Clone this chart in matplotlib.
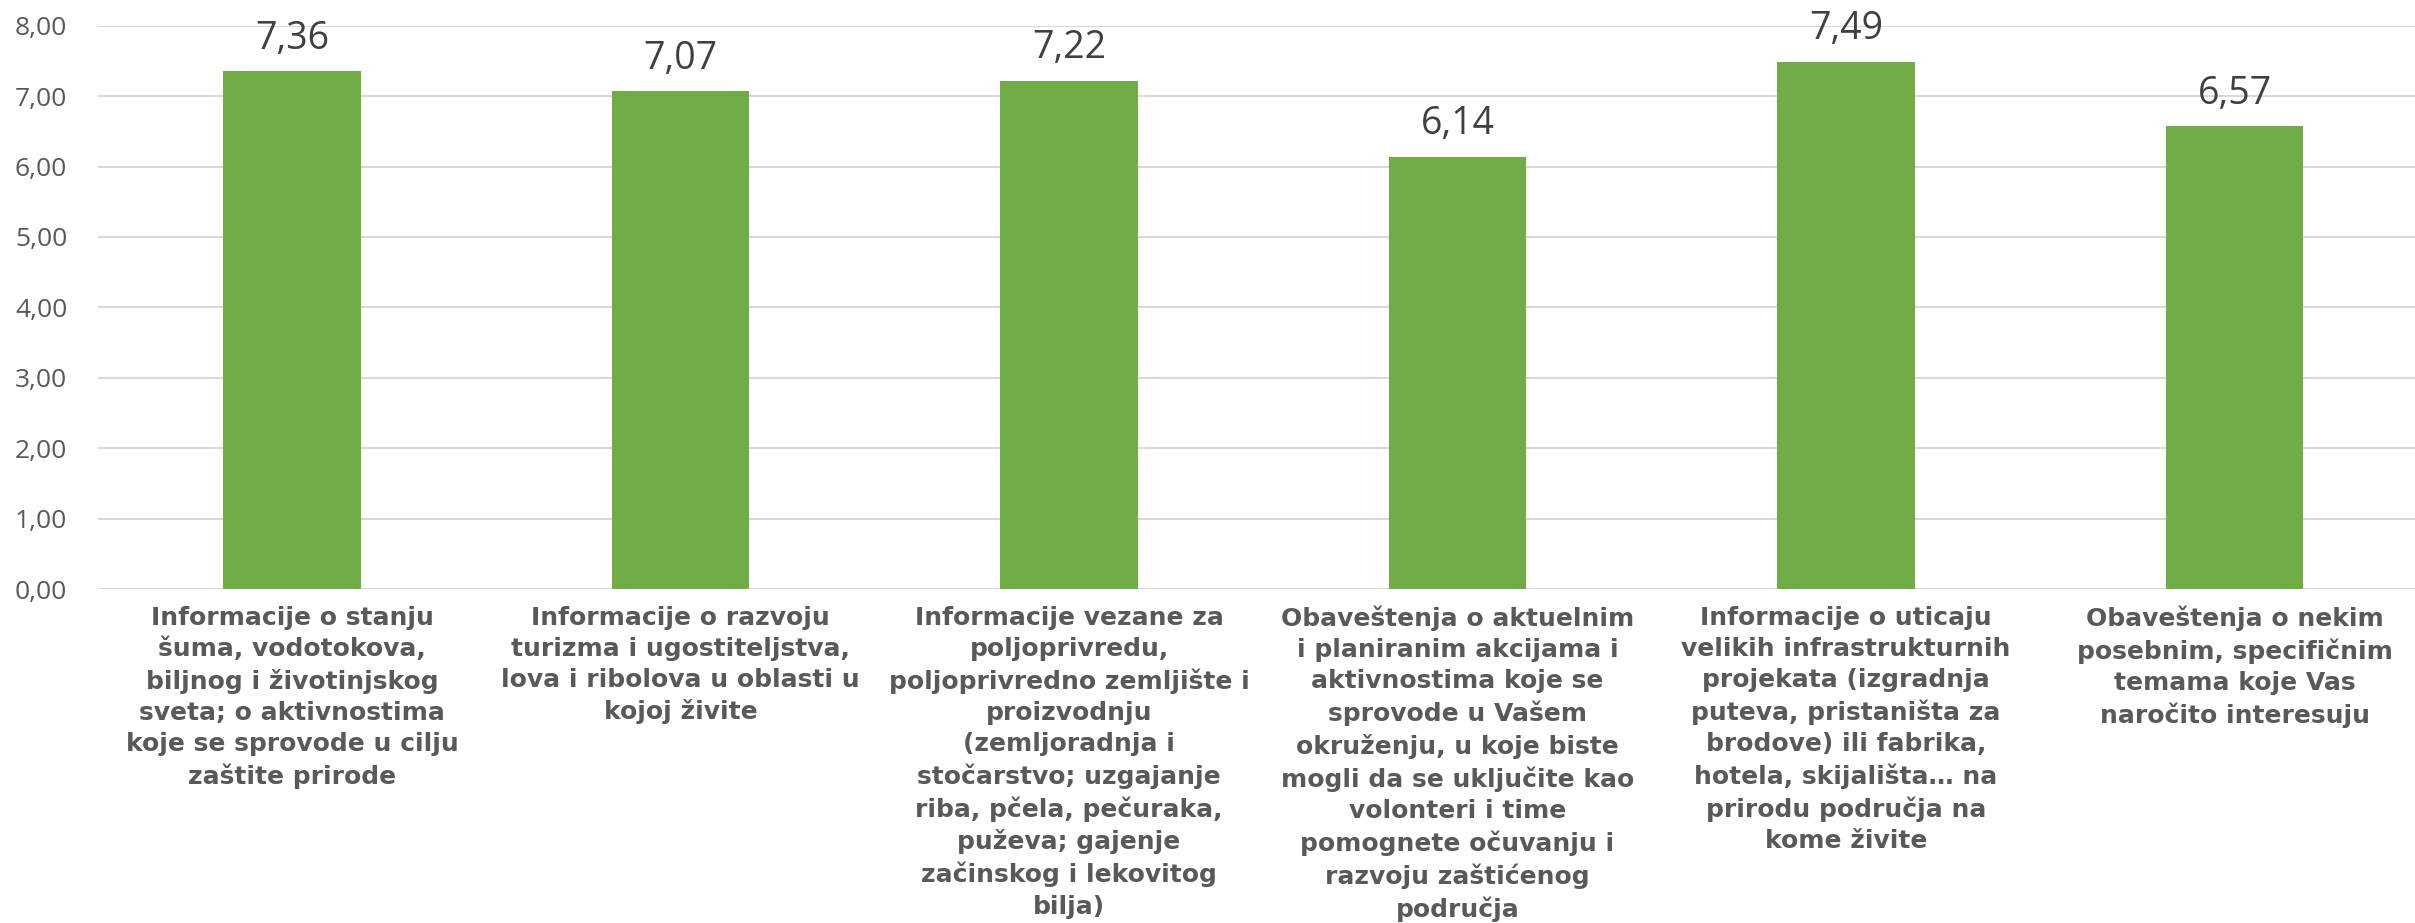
import matplotlib
matplotlib.use("Agg")
import matplotlib.pyplot as plt
from matplotlib.ticker import FuncFormatter

categories = [
    "Informacije o stanju\nšuma, vodotokova,\nbiljnog i životinjskog\nsveta; o aktivnostima\nkoje se sprovode u cilju\nzaštite prirode",
    "Informacije o razvoju\nturizma i ugostiteljstva,\nlova i ribolova u oblasti u\nkojoj živite",
    "Informacije vezane za\npoljoprivredu,\npoljoprivredno zemljište i\nproizvodnju\n(zemljoradnja i\nstočarstvo; uzgajanje\nriba, pčela, pečuraka,\npuževa; gajenje\nzačinskog i lekovitog\nbilja)",
    "Obaveštenja o aktuelnim\ni planiranim akcijama i\naktivnostima koje se\nsprovode u Vašem\nokruženju, u koje biste\nmogli da se uključite kao\nvolonteri i time\npomognete očuvanju i\nrazvoju zaštićenog\npodručja",
    "Informacije o uticaju\nvelikih infrastrukturnih\nprojekata (izgradnja\nputeva, pristaništa za\nbrodove) ili fabrika,\nhotela, skijališta… na\nprirodu područja na\nkome živite",
    "Obaveštenja o nekim\nposebnim, specifičnim\ntemama koje Vas\nnaročito interesuju",
]
values = [7.36, 7.07, 7.22, 6.14, 7.49, 6.57]
yticks = [0, 1, 2, 3, 4, 5, 6, 7, 8]

W, H = 2415, 923
fig = plt.figure(figsize=(W / 100, H / 100), dpi=100)
left = 97.75 / W
right = 2428.75 / W
bottom = (H - 589) / H
top = (H - 25.7) / H
ax = fig.add_axes([left, bottom, right - left, top - bottom])

x = list(range(len(values)))
bars = ax.bar(x, values, width=0.355, color="#70AD47", zorder=3)

ax.set_xlim(-0.5, len(values) - 0.5)
ax.set_ylim(0, 8)
ax.set_yticks(yticks)
ax.yaxis.set_major_formatter(FuncFormatter(lambda v, p: f"{v:.2f}".replace(".", ",")))
ax.grid(axis="y", color="#D9D9D9", linewidth=1.5, zorder=0)
for s in ax.spines.values():
    s.set_visible(False)

ax.tick_params(axis="y", length=0, pad=22, labelsize=19, labelcolor="#595959")
for t in ax.get_yticklabels():
    t.set_fontfamily("Open Sans")

ax.set_xticks(x)
ax.set_xticklabels(categories, fontsize=18, fontweight="bold", color="#595959",
                   fontfamily="DejaVu Sans", linespacing=1.37)
ax.tick_params(axis="x", length=0, pad=12)

for xi, v in zip(x, values):
    ax.annotate(f"{v:.2f}".replace(".", ","), (xi, v), xytext=(0, 16),
                textcoords="offset points", ha="center", va="baseline",
                fontsize=27, color="#404040", fontfamily="Open Sans")

fig.savefig("out.png", dpi=100)
